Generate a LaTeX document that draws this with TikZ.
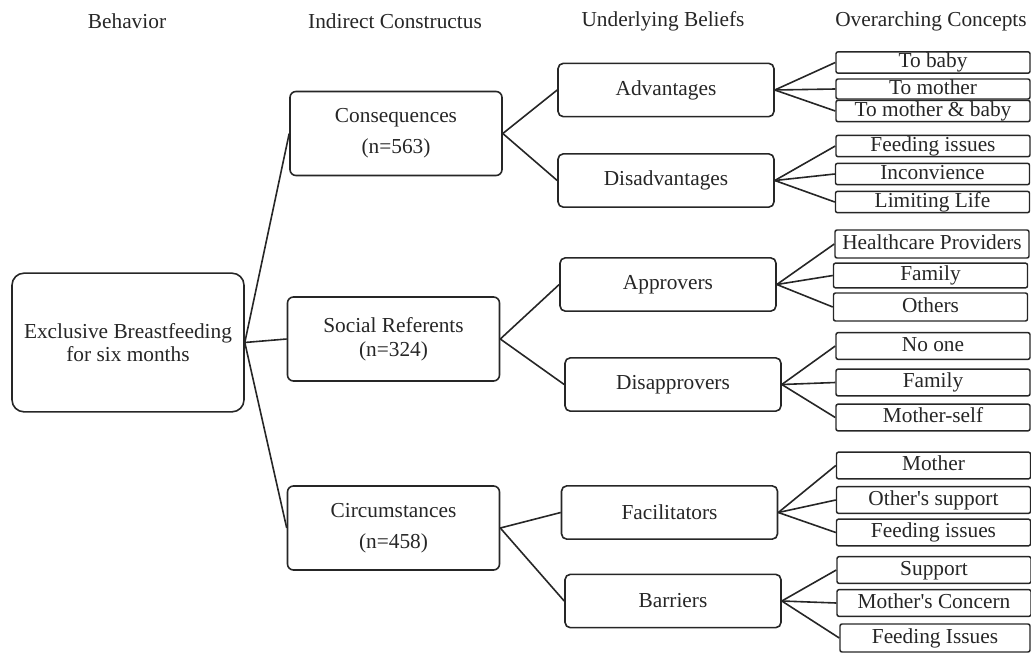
\documentclass[tikz,border=0pt]{standalone}
\usepackage{fontspec}
\setmainfont{Liberation Serif}
\usepackage{tikz}

\tikzset{
  txt/.style={font=\fontsize{16}{18}\selectfont, text=black!85},
  rootbox/.style={txt, draw=black!85, line width=1.2pt, rounded corners=9pt, align=center,
    minimum width=174pt, minimum height=104pt},
  constrbox/.style={txt, draw=black!85, line width=1.2pt, rounded corners=4.5pt, align=center,
    minimum width=159pt, minimum height=63pt},
  beliefbox/.style={txt, draw=black!85, line width=1.2pt, rounded corners=4pt,
    minimum width=162pt, minimum height=40pt},
  conceptbox/.style={txt, draw=black!85, line width=1.1pt, rounded corners=1.5pt, inner sep=0pt,
    text height=11.5pt, text depth=3.5pt, minimum width=145.5pt, minimum height=16pt},
  tallbox/.style={conceptbox, minimum height=20pt},
  link/.style={draw=black!85, line width=1.2pt}
}

\begin{document}
\begin{tikzpicture}[x=0.75pt, y=-0.75pt]
            \useasboundingbox (0,0) rectangle (1031,653);

            % Headings
            \node[txt] (hbeh) at (127, 21) {Behavior};
            \node[txt] (hcon) at (395, 21) {Indirect Constructus};
            \node[txt] (hbel) at (663, 21) {Underlying Beliefs};
            \node[txt] (hover) at (931, 21) {Overarching Concepts};

            % Nodes
            \node[rootbox] (ebf) at (128, 342.5) {Exclusive Breastfeeding\\[-1pt]for six months};

            \node[constrbox] (cons) at (396, 133.5) {Consequences\\[5pt](n=563)};
            \node[constrbox] (soc) at (393.5, 339) {Social Referents\\(n=324)};
            \node[constrbox] (circ) at (393.5, 528) {Circumstances\\[5pt](n=458)};

            \node[beliefbox] (adv) at (666, 90) {Advantages};
            \node[beliefbox] (disadv) at (666, 180.5) {Disadvantages};
            \node[beliefbox] (appr) at (668, 284.5) {Approvers};
            \node[beliefbox] (disappr) at (673, 384.5) {Disapprovers};
            \node[beliefbox] (facil) at (669.5, 512.5) {Facilitators};
            \node[beliefbox] (barr) at (673, 601) {Barriers};

            \node[conceptbox] (tobaby) at (933, 62.5) {To baby};
            \node[conceptbox, minimum height=15pt] (tomother) at (933, 89) {To mother};
            \node[conceptbox] (toboth) at (933, 111) {To mother \& baby};
            \node[conceptbox] (feed1) at (933, 146) {Feeding issues};
            \node[conceptbox] (inconv) at (932.5, 174) {Inconvience};
            \node[conceptbox] (limit) at (932.5, 202) {Limiting Life};
            \node[tallbox, minimum height=21pt] (hcp) at (932, 244) {Healthcare Providers};
            \node[tallbox, minimum height=18.5pt] (fam1) at (930.5, 275.5) {Family};
            \node[tallbox, minimum height=21pt] (others) at (930.5, 307) {Others};
            \node[tallbox] (noone) at (933, 346) {No one};
            \node[tallbox] (fam2) at (933, 382.5) {Family};
            \node[tallbox] (mself) at (933, 417.5) {Mother-self};
            \node[tallbox] (mother) at (933.5, 465.5) {Mother};
            \node[tallbox] (osup) at (933.5, 500) {Other\textquotesingle s support};
            \node[tallbox] (feed2) at (933.5, 532.5) {Feeding issues};
            \node[tallbox] (supp) at (934, 570) {Support};
            \node[tallbox] (mconc) at (934, 603) {Mother\textquotesingle s Concern};
            \node[tallbox, minimum width=142.5pt, minimum height=21pt] (feed3) at (935, 638) {Feeding Issues};

            % Edges
            \draw[link] (ebf.east) -- (cons.west);
            \draw[link] (ebf.east) -- (soc.west);
            \draw[link] (ebf.east) -- (circ.west);

            \draw[link] (cons.east) -- (adv.west);
            \draw[link] (cons.east) -- (disadv.west);
            \draw[link] (soc.east) -- (appr.west);
            \draw[link] (soc.east) -- (disappr.west);
            \draw[link] (circ.east) -- (facil.west);
            \draw[link] (circ.east) -- (barr.west);

            \draw[link] (adv.east) -- (tobaby.west);
            \draw[link] (adv.east) -- (tomother.west);
            \draw[link] (adv.east) -- (toboth.west);
            \draw[link] (disadv.east) -- (feed1.west);
            \draw[link] (disadv.east) -- (inconv.west);
            \draw[link] (disadv.east) -- (limit.west);
            \draw[link] (appr.east) -- (hcp.west);
            \draw[link] (appr.east) -- (fam1.west);
            \draw[link] (appr.east) -- (others.west);
            \draw[link] (disappr.east) -- (noone.west);
            \draw[link] (disappr.east) -- (fam2.west);
            \draw[link] (disappr.east) -- (mself.west);
            \draw[link] (facil.east) -- (mother.west);
            \draw[link] (facil.east) -- (osup.west);
            \draw[link] (facil.east) -- (feed2.west);
            \draw[link] (barr.east) -- (supp.west);
            \draw[link] (barr.east) -- (mconc.west);
            \draw[link] (barr.east) -- (feed3.west);
        \end{tikzpicture}
\end{document}
